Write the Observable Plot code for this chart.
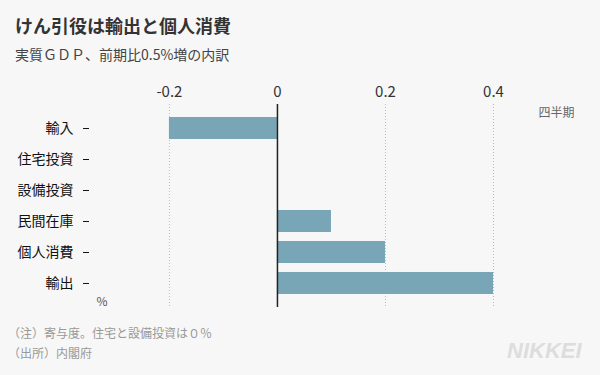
<!DOCTYPE html>
<html>
<head>
<meta charset="utf-8">
<script src="https://cdn.jsdelivr.net/npm/d3@7"></script>
<script src="https://cdn.jsdelivr.net/npm/@observablehq/plot@0.6"></script>
<style>
  html, body { margin: 0; padding: 0; background: #f7f7f7; }
  body { width: 600px; height: 375px; position: relative; overflow: hidden;
         font-family: "Noto Sans CJK JP", "Noto Sans", sans-serif; }
  #title { position: absolute; left: 15px; top: 13px; font-size: 18px; font-weight: bold; color: #333; line-height: 24px; white-space: nowrap; }
  #subtitle { position: absolute; left: 15px; top: 44px; font-size: 14px; color: #444; line-height: 20px; white-space: nowrap; }
  #chart { position: absolute; left: 0; top: 70px; }
  #chart svg { display: block; }
  #cap1 { position: absolute; left: 8px; top: 324px; font-size: 12px; color: #999; line-height: 18px; white-space: nowrap; }
  #cap2 { position: absolute; left: 8px; top: 344px; font-size: 12px; color: #999; line-height: 18px; white-space: nowrap; }
  #logo { position: absolute; left: 507px; top: 339px; font-family: "Liberation Sans", Arial, sans-serif;
          font-size: 22px; font-weight: bold; font-style: italic; color: #ddd; line-height: 24px; }
</style>
</head>
<body>
<div id="title">けん引役は輸出と個人消費</div>
<div id="subtitle">実質ＧＤＰ、前期比0.5%増の内訳</div>
<div id="chart"></div>
<div id="cap1">（注）寄与度。住宅と設備投資は０％</div>
<div id="cap2">（出所）内閣府</div>
<div id="logo">NIKKEI</div>
<script>
const categories = ["輸入", "住宅投資", "設備投資", "民間在庫", "個人消費", "輸出"];
const values = [-0.2, 0, 0, 0.1, 0.2, 0.4];
const xTicks = [-0.2, 0, 0.2, 0.4];
const xUnitLabel = "四半期";
const yUnitLabel = "%";

const data = categories.map((c, i) => ({category: c, value: values[i]}));

const plot = Plot.plot({
  width: 600,
  height: 250,
  marginTop: 34,
  marginBottom: 13,
  marginLeft: 89,
  marginRight: 26,
  style: {background: "transparent", fontFamily: "\"Noto Sans CJK JP\", \"Noto Sans\", sans-serif"},
  x: {domain: [-0.348, 0.55]},
  y: {domain: categories, paddingInner: 0.29, paddingOuter: 0.42, round: false},
  marks: [
    Plot.gridX(xTicks.filter(d => d !== 0), {stroke: "#bbb", strokeOpacity: 1, strokeDasharray: "1,2"}),
    Plot.barX(data, {x: "value", y: "category", fill: "#78a6b6"}),
    Plot.ruleX([0], {stroke: "#222", strokeWidth: 1.5}),
    Plot.axisX(xTicks, {anchor: "top", tickSize: 0, tickPadding: 8, fontSize: 15, fill: "#333",
                        tickFormat: d => String(d), label: null}),
    Plot.axisY({anchor: "left", tickSize: 6, tickPadding: 10, fontSize: 14, fill: "#111", stroke: "#111", label: null}),
    Plot.text([xUnitLabel], {frameAnchor: "top-right", text: d => d, textAnchor: "end", dy: 4, fontSize: 12, fill: "#666"}),
    Plot.text([yUnitLabel], {frameAnchor: "bottom-left", text: d => d, textAnchor: "start", dx: 7, dy: -2, fontSize: 12, fill: "#555"})
  ]
});
document.getElementById("chart").appendChild(plot);
</script>
</body>
</html>
